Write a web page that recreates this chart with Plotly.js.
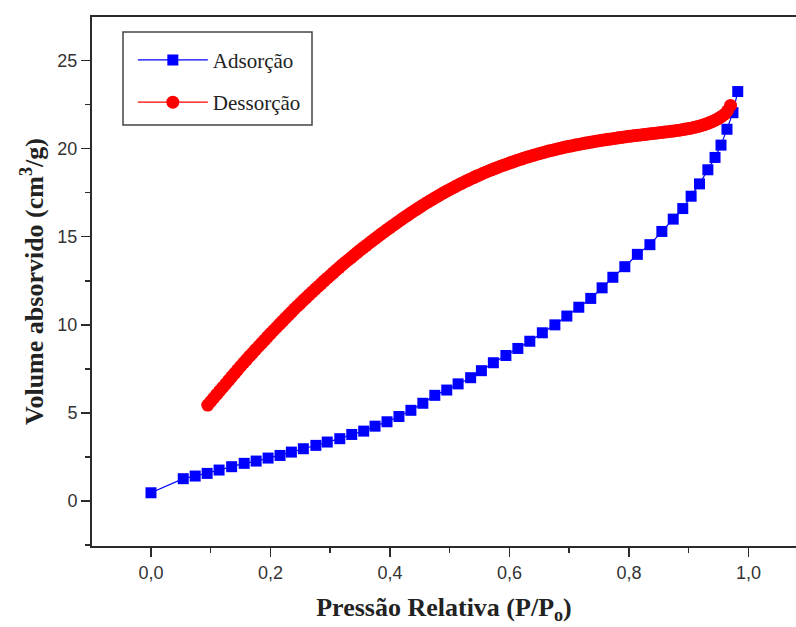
<!DOCTYPE html>
<html>
<head>
<meta charset="utf-8">
<script src="https://cdn.plot.ly/plotly-3.0.1.min.js"></script>
<style>
  html, body { margin: 0; padding: 0; background: #fff; }
  #chart { width: 796px; height: 627px; }
</style>
</head>
<body>
<div id="chart"></div>
<script>
// Nitrogen isotherm: adsorption branch (blue squares) and desorption branch (red circles)
const adsorcaoX = [0, 0.054, 0.074, 0.094, 0.114, 0.135, 0.156, 0.176, 0.196, 0.216, 0.235, 0.255,
  0.276, 0.295, 0.316, 0.336, 0.356, 0.375, 0.395, 0.415, 0.435, 0.455, 0.475, 0.495, 0.514, 0.535,
  0.553, 0.573, 0.594, 0.614, 0.634, 0.655, 0.676, 0.696, 0.716, 0.736, 0.755, 0.773, 0.793, 0.814,
  0.835, 0.855, 0.874, 0.89, 0.904, 0.918, 0.932, 0.944, 0.954, 0.964, 0.974, 0.982];
const adsorcaoY = [0.47, 1.27, 1.42, 1.57, 1.76, 1.95, 2.14, 2.27, 2.44, 2.59, 2.78, 2.97,
  3.16, 3.35, 3.54, 3.78, 3.97, 4.25, 4.5, 4.8, 5.15, 5.55, 6.0, 6.3, 6.65, 7.0,
  7.4, 7.85, 8.26, 8.66, 9.07, 9.55, 10.0, 10.5, 11.0, 11.5, 12.1, 12.7, 13.3, 14.0,
  14.55, 15.3, 16.0, 16.6, 17.3, 18.0, 18.8, 19.5, 20.2, 21.1, 22.04, 23.24];

const dessorcaoX = [0.095, 0.100, 0.105, 0.110, 0.115, 0.120, 0.125, 0.130, 0.135, 0.140, 0.145,
  0.150, 0.155, 0.160, 0.165, 0.170, 0.175, 0.180, 0.185, 0.190, 0.195, 0.200, 0.205, 0.210,
  0.215, 0.220, 0.225, 0.230, 0.235, 0.240, 0.245, 0.250, 0.255, 0.260, 0.265, 0.270, 0.275,
  0.280, 0.285, 0.290, 0.295, 0.300, 0.305, 0.310, 0.315, 0.320, 0.325, 0.330, 0.335, 0.340,
  0.345, 0.350, 0.355, 0.360, 0.365, 0.370, 0.375, 0.380, 0.385, 0.390, 0.395, 0.400, 0.405,
  0.410, 0.415, 0.420, 0.425, 0.430, 0.435, 0.440, 0.445, 0.450, 0.455, 0.460, 0.465, 0.470,
  0.475, 0.480, 0.485, 0.490, 0.495, 0.500, 0.505, 0.510, 0.515, 0.520, 0.525, 0.530, 0.535,
  0.540, 0.545, 0.550, 0.555, 0.560, 0.565, 0.570, 0.575, 0.580, 0.585, 0.590, 0.595, 0.600,
  0.605, 0.610, 0.615, 0.620, 0.625, 0.630, 0.635, 0.640, 0.645, 0.650, 0.655, 0.660, 0.665,
  0.670, 0.675, 0.680, 0.685, 0.690, 0.695, 0.700, 0.705, 0.710, 0.715, 0.720, 0.725, 0.730,
  0.735, 0.740, 0.745, 0.750, 0.755, 0.760, 0.765, 0.770, 0.775, 0.780, 0.785, 0.790, 0.795,
  0.800, 0.805, 0.810, 0.815, 0.820, 0.825, 0.830, 0.835, 0.840, 0.845, 0.850, 0.855, 0.860,
  0.865, 0.870, 0.875, 0.880, 0.885, 0.890, 0.895, 0.900, 0.905, 0.910, 0.915, 0.920, 0.925,
  0.930, 0.935, 0.940, 0.945, 0.950, 0.955, 0.960, 0.965, 0.970];
const dessorcaoY = [5.45, 5.65, 5.85, 6.05, 6.25, 6.45, 6.65, 6.85, 7.05, 7.25, 7.45,
  7.65, 7.84, 8.03, 8.22, 8.40, 8.59, 8.77, 8.95, 9.13, 9.32, 9.50, 9.68, 9.85,
  10.03, 10.20, 10.38, 10.55, 10.72, 10.90, 11.06, 11.22, 11.39, 11.55, 11.71, 11.87, 12.03,
  12.18, 12.34, 12.50, 12.65, 12.80, 12.95, 13.10, 13.25, 13.40, 13.54, 13.68, 13.82, 13.96,
  14.10, 14.24, 14.37, 14.50, 14.63, 14.76, 14.89, 15.02, 15.15, 15.27, 15.40, 15.52, 15.64,
  15.76, 15.88, 16.00, 16.12, 16.23, 16.35, 16.46, 16.57, 16.68, 16.79, 16.90, 17.00, 17.10,
  17.20, 17.30, 17.40, 17.50, 17.59, 17.68, 17.77, 17.86, 17.95, 18.03, 18.12, 18.20, 18.28,
  18.36, 18.44, 18.51, 18.59, 18.66, 18.73, 18.80, 18.87, 18.93, 19.00, 19.06, 19.12, 19.18,
  19.24, 19.30, 19.36, 19.41, 19.47, 19.52, 19.57, 19.62, 19.67, 19.72, 19.77, 19.81, 19.86,
  19.90, 19.94, 19.98, 20.02, 20.06, 20.10, 20.13, 20.17, 20.20, 20.24, 20.27, 20.30, 20.33,
  20.36, 20.39, 20.42, 20.45, 20.48, 20.50, 20.53, 20.55, 20.58, 20.60, 20.63, 20.65, 20.68,
  20.70, 20.72, 20.74, 20.76, 20.78, 20.80, 20.82, 20.84, 20.86, 20.88, 20.90, 20.92, 20.94,
  20.96, 20.98, 21.00, 21.03, 21.05, 21.08, 21.11, 21.14, 21.17, 21.21, 21.25, 21.30, 21.35,
  21.41, 21.48, 21.55, 21.63, 21.72, 21.83, 21.95, 22.15, 22.45];

const xTickVals = [0, 0.2, 0.4, 0.6, 0.8, 1.0];
const xTickText = ['0,0', '0,2', '0,4', '0,6', '0,8', '1,0'];
const yTickVals = [0, 5, 10, 15, 20, 25];

const serif = 'Liberation Serif, Times New Roman, serif';
const sans = 'Liberation Sans, Arial, sans-serif';
const axisColor = '#2b2b2b';

const traces = [
  {
    x: adsorcaoX, y: adsorcaoY, name: 'Adsorção', legendgroup: 'a',
    mode: 'lines+markers', type: 'scatter',
    line: { color: '#0000ff', width: 1.2 },
    marker: { symbol: 'square', size: 11, color: '#0000ff' }
  },
  {
    x: dessorcaoX, y: dessorcaoY, name: 'Dessorção', legendgroup: 'b',
    mode: 'lines+markers', type: 'scatter',
    line: { color: '#ff0000', width: 1.2 },
    marker: { symbol: 'circle', size: 13, color: '#ff0000' }
  }
];

const layout = {
  width: 796, height: 627,
  margin: { l: 92, r: 0, t: 17, b: 81 },
  paper_bgcolor: '#fff', plot_bgcolor: '#fff',
  showlegend: true,
  xaxis: {
    range: [-0.0987, 1.0795],
    showgrid: false, zeroline: false,
    showline: true, linecolor: axisColor, linewidth: 2, mirror: true,
    ticks: 'outside', ticklen: 9, tickwidth: 1.5, tickcolor: axisColor,
    tickvals: xTickVals, ticktext: xTickText,
    tickfont: { family: sans, size: 18, color: '#333' },
    minor: { dtick: 0.1, tick0: 0, ticks: 'outside', ticklen: 5, tickwidth: 1.5, tickcolor: axisColor, showgrid: false },
    title: { text: 'Pressão Relativa (P/P<sub>o</sub>)', font: { family: serif, size: 26, color: '#222', weight: 'bold' }, standoff: 16 }
  },
  yaxis: {
    range: [-2.55, 27.47],
    showgrid: false, zeroline: false,
    showline: true, linecolor: axisColor, linewidth: 2, mirror: false,
    ticks: 'outside', ticklen: 9, tickwidth: 1.5, tickcolor: axisColor,
    tickvals: yTickVals,
    tickfont: { family: sans, size: 18, color: '#333' },
    minor: { dtick: 2.5, tick0: 0, ticks: 'outside', ticklen: 5, tickwidth: 1.5, tickcolor: axisColor, showgrid: false },
    title: { text: 'Volume absorvido (cm<sup>3</sup>/g)', font: { family: serif, size: 26, color: '#222', weight: 'bold' }, standoff: 6 }
  },
  legend: {
    x: 0.058, y: 0.957, xanchor: 'left', yanchor: 'top',
    bgcolor: 'rgba(255,255,255,0)', borderwidth: 0,
    font: { family: serif, size: 21, color: '#222' },
    traceorder: 'grouped', tracegroupgap: 12, itemwidth: 70
  },
  shapes: [
    { type: 'rect', xref: 'paper', yref: 'paper',
      x0: (123 - 92) / 704, x1: (312 - 92) / 704,
      y0: (546 - 125) / 529, y1: (546 - 32) / 529,
      line: { color: '#444', width: 1.5 }, fillcolor: 'rgba(0,0,0,0)', layer: 'above' }
  ]
};

Plotly.newPlot('chart', traces, layout, { displayModeBar: false, staticPlot: true });
</script>
</body>
</html>
